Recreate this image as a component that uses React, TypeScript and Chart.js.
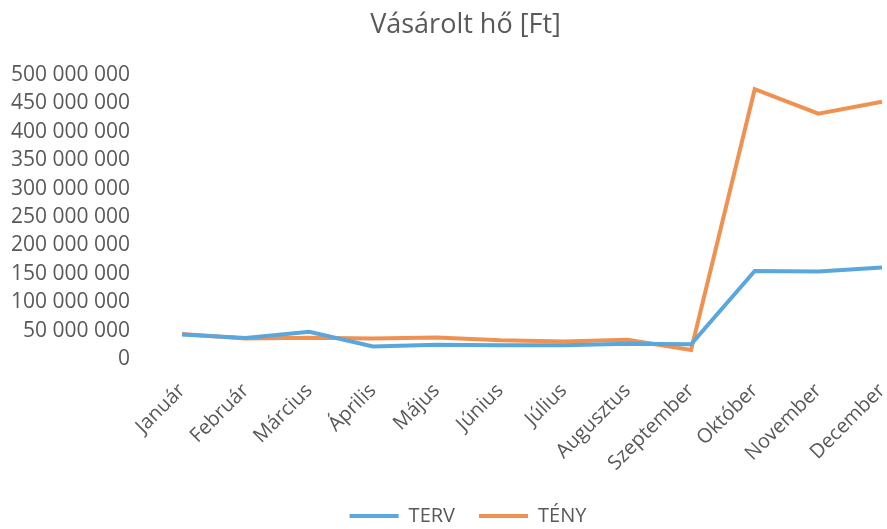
import React, { useEffect, useRef } from "react";
import { Chart, registerables } from "chart.js";

Chart.register(...registerables);

const months = [
  "Január", "Február", "Március", "Április", "Május", "Június",
  "Július", "Augusztus", "Szeptember", "Október", "November", "December",
];
const terv = [43e6, 37e6, 48e6, 22e6, 25e6, 24e6, 24e6, 27e6, 26e6, 155e6, 154e6, 161e6];
const teny = [44e6, 36e6, 37.5e6, 36e6, 38e6, 33e6, 31e6, 34e6, 16e6, 475e6, 432e6, 453e6];
const yTicksStep = 50e6;
const yMax = 500e6;

const TEXT = "#595959";
const FONT = "'Open Sans', sans-serif";
const BLUE = "#5AA7DE";
const ORANGE = "#EF9150";

const fmt = (v: number) =>
  v === 0 ? "0" : Math.round(v).toString().replace(/\B(?=(\d{3})+(?!\d))/g, " ");

// Title and legend in the reference are centred a little right of the canvas centre.
const shiftBoxes = {
  id: "shiftBoxes",
  afterLayout(chart: any) {
    if (chart.titleBlock) chart.titleBlock.left += 43;
    if (chart.legend) chart.legend.left += 48;
  },
};

export default function App() {
  const ref = useRef<HTMLCanvasElement>(null);
  useEffect(() => {
    if (!ref.current) return;
    const chart = new Chart(ref.current, {
      type: "line",
      data: {
        labels: months,
        datasets: [
          {
            label: "TERV",
            data: terv,
            borderColor: BLUE,
            backgroundColor: BLUE,
            borderWidth: 4,
            pointRadius: 0,
            tension: 0,
          },
          {
            label: "TÉNY",
            data: teny,
            borderColor: ORANGE,
            backgroundColor: ORANGE,
            borderWidth: 4,
            pointRadius: 0,
            tension: 0,
          },
        ],
      },
      plugins: [shiftBoxes],
      options: {
        animation: false,
        responsive: false,
        layout: { padding: { left: 6, right: 5, top: 0, bottom: -7 } },
        plugins: {
          title: {
            display: true,
            text: "Vásárolt hő [Ft]",
            color: TEXT,
            font: { family: FONT, size: 27, weight: "normal" },
            padding: { top: 9, bottom: 33.6 },
          },
          legend: {
            position: "bottom",
            labels: {
              color: TEXT,
              font: { family: FONT, size: 20 },
              boxWidth: 49,
              boxHeight: 4,
              padding: 24,
              generateLabels: (c: any) =>
                (Chart.defaults.plugins.legend.labels as any)
                  .generateLabels(c)
                  .map((l: any) => ({ ...l, lineWidth: 0 })),
            },
          },
          tooltip: { enabled: false },
        },
        scales: {
          x: {
            grid: { display: false, drawTicks: false },
            border: { display: false },
            ticks: {
              color: TEXT,
              font: { family: FONT, size: 20 },
              maxRotation: 45,
              minRotation: 45,
              padding: 20,
            },
            afterFit: (s: any) => {
              s.height = 123;
              s.paddingLeft = 0;
              s.paddingRight = 0;
            },
          },
          y: {
            min: 0,
            max: yMax,
            grid: { display: false, drawTicks: false },
            border: { display: false },
            ticks: {
              stepSize: yTicksStep,
              color: TEXT,
              font: { family: FONT, size: 21 },
              padding: 52,
              callback: (v: any) => fmt(Number(v)),
            },
            afterFit: (s: any) => {
              s.width = 176;
              s.paddingTop = 0;
              s.paddingBottom = 0;
            },
          },
        },
      },
    });
    return () => chart.destroy();
  }, []);
  return (
    <div style={{ position: "fixed", left: 0, top: 0, width: 887, height: 529, background: "#fff" }}>
      <canvas ref={ref} width={887} height={529} style={{ width: 887, height: 529 }} />
    </div>
  );
}
